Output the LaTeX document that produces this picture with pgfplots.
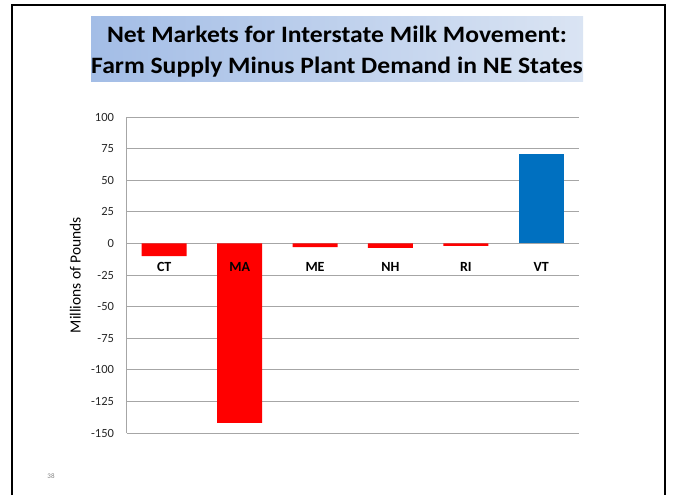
\documentclass[border=0pt]{standalone}
\usepackage{pgfplots}
\pgfplotsset{compat=1.18}
\usepackage{fontspec}
\setmainfont{Carlito}
\newfontfamily\titlefont[FakeStretch=1.09]{Carlito}
\definecolor{gridgray}{HTML}{A6A6A6}
\definecolor{barred}{HTML}{FF0000}
\definecolor{barblue}{HTML}{0070C0}
\definecolor{titleL}{HTML}{A3BDE6}
\definecolor{titleR}{HTML}{DAE4F3}
\tikzset{
  catlab/.style={anchor=north, inner sep=0pt, yshift=-19bp,
    font=\fontsize{14bp}{16bp}\selectfont\bfseries},
  titlab/.style={anchor=base, inner sep=0pt,
    font=\titlefont\fontsize{23.5bp}{28bp}\selectfont\bfseries}}
\begin{document}
\begin{tikzpicture}
% page area and slide frame
\path (0,0) rectangle (673bp,493bp);
\draw[line width=2.5bp] (12bp,-2bp) -- (12bp,488bp) -- (665bp,488bp) -- (665bp,-2bp);
% title box
\node[left color=titleL, right color=titleR, minimum width=492bp, minimum height=65bp,
      inner sep=0pt] at (337bp,443.8bp) {};
\node[titlab] at (337bp,450.7bp) {Net Markets for Interstate Milk Movement:};
\node[titlab] at (337bp,419.7bp) {Farm Supply Minus Plant Demand in NE States};
\node[font=\fontsize{7bp}{8bp}\selectfont, text=gray] at (51bp,17bp) {38};
\begin{axis}[
  at={(126.5bp,60bp)}, anchor=south west,
  scale only axis, width=452.5bp, height=316bp,
  xmin=-0.5, xmax=5.5, ymin=-150, ymax=100,
  ytick={-150,-125,...,100},
  xtick={0,...,5},
  xticklabels={},
  ymajorgrids,
  major grid style={gridgray, line width=0.9bp},
  separate axis lines,
  x axis line style={draw=none},
  y axis line style={gridgray, line width=0.9bp},
  axis y line*=left,
  major tick length=0pt,
  clip=false,
  /pgf/number format/assume math mode=true,
  yticklabel style={font=\fontsize{12.5bp}{14bp}\selectfont, text=black!85, xshift=-9bp},
  ylabel={Millions of Pounds},
  ylabel style={font=\fontsize{15.5bp}{17bp}\selectfont, at={(axis description cs:-0.113,0.5)}, anchor=center},
  ybar,
]
\addplot[fill=barred, draw=none, bar width=45bp, bar shift=0pt]
  coordinates {(0,-10) (1,-142) (2,-3) (3,-3.5) (4,-2)};
\addplot[fill=barblue, draw=none, bar width=45bp, bar shift=0pt]
  coordinates {(5,71)};
% category names sit just below the zero line, over the bars
\foreach \i/\name in {0/CT,1/MA,2/ME,3/NH,4/RI,5/VT}{
  \edef\temp{\noexpand\node[catlab] at (axis cs:\i,0) {\name};}
  \temp
}
\end{axis}
\end{tikzpicture}
\end{document}
